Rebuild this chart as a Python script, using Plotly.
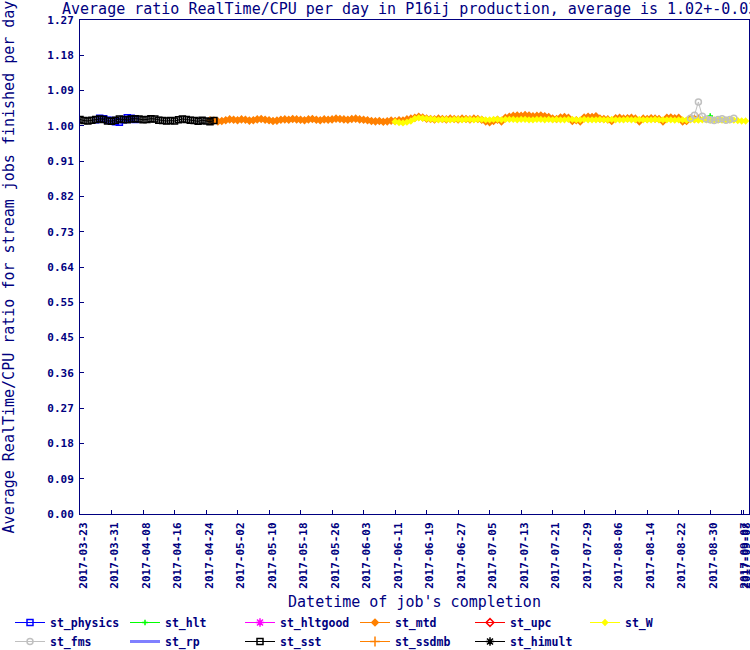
import plotly.graph_objects as go
import pandas as pd

NAVY = "#000080"
FONT = "DejaVu Sans Mono"

# ---- axis ticks ----
y_max = 1.272
y_tick_labels = ["0.00", "0.09", "0.18", "0.27", "0.36", "0.45", "0.55", "0.64",
                 "0.73", "0.82", "0.91", "1.00", "1.09", "1.18", "1.27"]
x_tick_dates = ["2017-03-23", "2017-03-31", "2017-04-08", "2017-04-16", "2017-04-24",
                "2017-05-02", "2017-05-10", "2017-05-18", "2017-05-26", "2017-06-03",
                "2017-06-11", "2017-06-19", "2017-06-27", "2017-07-05", "2017-07-13",
                "2017-07-21", "2017-07-29", "2017-08-06", "2017-08-14", "2017-08-22",
                "2017-08-30", "2017-09-07", "2017-09-07 13:30"]
x_tick_labels = ["2017-03-23", "2017-03-31", "2017-04-08", "2017-04-16", "2017-04-24",
                 "2017-05-02", "2017-05-10", "2017-05-18", "2017-05-26", "2017-06-03",
                 "2017-06-11", "2017-06-19", "2017-06-27", "2017-07-05", "2017-07-13",
                 "2017-07-21", "2017-07-29", "2017-08-06", "2017-08-14", "2017-08-22",
                 "2017-08-30", "2017-09-07", "2017-09-08"]
x_range = ["2017-03-23", "2017-09-08 20:24"]

# ---- series (daily values) ----
physics_start = "2017-03-27"
physics_vals = [1.015, 1.019, 1.018, 1.014, 1.013, 1.010, 1.009, 1.015, 1.020, 1.019, 1.016]

hlt_start = "2017-08-30"
hlt_vals = [1.025]

mtd_start = "2017-04-25"
mtd_vals = [1.014, 1.013, 1.011, 1.012, 1.014, 1.016, 1.015, 1.014, 1.016, 1.015,
            1.013, 1.014, 1.016, 1.017, 1.015, 1.014, 1.012, 1.013, 1.015, 1.016,
            1.015, 1.017, 1.016, 1.015, 1.014, 1.016, 1.017, 1.015, 1.014, 1.016,
            1.015, 1.016, 1.018, 1.017, 1.016, 1.015, 1.017, 1.018, 1.016, 1.015,
            1.014, 1.012, 1.011, 1.012, 1.010, 1.011, 1.013, 1.012, 1.014, 1.013,
            1.016, 1.018, 1.020, 1.023, 1.021, 1.018, 1.017, 1.016, 1.018, 1.017,
            1.016, 1.018, 1.017, 1.016, 1.018, 1.017, 1.016, 1.018, 1.017, 1.015,
            1.011, 1.009, 1.012, 1.015, 1.011, 1.020, 1.023, 1.025, 1.026, 1.025,
            1.027, 1.026, 1.024, 1.025, 1.026, 1.024, 1.022, 1.018, 1.017, 1.021,
            1.022, 1.020, 1.012, 1.014, 1.011, 1.021, 1.023, 1.022, 1.024, 1.018,
            1.017, 1.016, 1.012, 1.019, 1.020, 1.018, 1.019, 1.020, 1.018, 1.011,
            1.018, 1.017, 1.019, 1.018, 1.017, 1.011, 1.020, 1.021, 1.019, 1.020,
            1.011, 1.012, 1.018, 1.017, 1.018]

W_start = "2017-06-11"
W_vals = [1.010, 1.008, 1.007, 1.009, 1.012, 1.018, 1.020, 1.019, 1.018, 1.017,
          1.016, 1.015, 1.016, 1.016, 1.015, 1.016, 1.016, 1.015, 1.016, 1.016,
          1.015, 1.016, 1.016, 1.015, 1.015, 1.016, 1.016, 1.015, 1.016, 1.016,
          1.016, 1.015, 1.016, 1.016, 1.015, 1.015, 1.016, 1.016, 1.015, 1.016,
          1.015, 1.016, 1.015, 1.015, 1.016, 1.016, 1.015, 1.015, 1.016, 1.015,
          1.015, 1.015, 1.016, 1.015, 1.015, 1.016, 1.015, 1.015, 1.015, 1.016,
          1.015, 1.015, 1.016, 1.015, 1.015, 1.015, 1.016, 1.015, 1.015, 1.015,
          1.015, 1.014, 1.015, 1.015, 1.014, 1.015, 1.015, 1.014, 1.015, 1.015,
          1.014, 1.015, 1.014, 1.014, 1.015, 1.014, 1.014, 1.013, 1.012, 1.012]

fms_start = "2017-08-25"
fms_vals = [1.019, 1.027, 1.061, 1.024, 1.017, 1.015, 1.013, 1.016, 1.018, 1.014, 1.016, 1.019]

sst_start = "2017-03-23"
sst_vals = [1.016, 1.013, 1.012, 1.014, 1.016, 1.017, 1.016, 1.012, 1.011, 1.014,
            1.017, 1.016, 1.015, 1.017, 1.018, 1.017, 1.015, 1.016, 1.018, 1.017,
            1.014, 1.013, 1.012, 1.013, 1.012, 1.015, 1.017, 1.016, 1.014, 1.013,
            1.011, 1.014, 1.012, 1.010, 1.013]

series = [
    # name, start, values, color, symbol, size
    ("st_physics", physics_start, physics_vals, "#0000FF", "square-open", 6),
    ("st_hlt", hlt_start, hlt_vals, "#00FF00", "cross-thin-open", 4),
    ("st_hltgood", None, [], "#FF00FF", "asterisk-open", 7),
    ("st_mtd", mtd_start, mtd_vals, "#FF8000", "diamond", 5),
    ("st_upc", None, [], "#FF0000", "diamond-open", 6),
    ("st_W", W_start, W_vals, "#FFFF00", "diamond", 4),
    ("st_fms", fms_start, fms_vals, "#C0C0C0", "circle-open", 6),
    ("st_rp", None, [], "#8080FF", None, 0),
    ("st_sst", sst_start, sst_vals, "#000000", "square-open", 6),
    ("st_ssdmb", None, [], "#FF8000", "cross-thin-open", 7),
    ("st_himult", None, [], "#000000", "asterisk-open", 7),
]

fig = go.Figure()
for name, start, vals, color, symbol, size in series:
    if start:
        xs = list(pd.date_range(start, periods=len(vals), freq="D"))
        ys = vals
    else:
        # no data for this stream: keep a legend entry only
        xs = [pd.Timestamp(x_range[0])]
        ys = [None]
    if symbol is None:
        fig.add_trace(go.Scatter(x=xs, y=ys, name=name, mode="lines",
                                 line=dict(color=color, width=3)))
    else:
        fig.add_trace(go.Scatter(
            x=xs, y=ys, name=name, mode="lines+markers",
            line=dict(color=color, width=1),
            marker=dict(symbol=symbol, size=size, color=color,
                        line=dict(color=color, width=1.5)),
        ))

tick_font = dict(family=FONT, size=11, color=NAVY, weight="bold")

W_FIG, H_FIG = 750, 650
L, R, T, B = 80, 1, 20, 136
plot_h = H_FIG - T - B
plot_w = W_FIG - L - R

fig.update_layout(
    width=W_FIG, height=H_FIG,
    margin=dict(l=L, r=R, t=T, b=B, autoexpand=False),
    paper_bgcolor="white", plot_bgcolor="white",
    font=dict(family=FONT, color=NAVY),
    title=dict(
        text="Average ratio RealTime/CPU per day in P16ij production, average is 1.02+-0.03",
        font=dict(family=FONT, size=15, color=NAVY),
        x=62 / W_FIG, xanchor="left", xref="container",
        y=1 - 9 / H_FIG, yanchor="middle", yref="container",
    ),
    xaxis=dict(
        type="date", range=x_range, automargin=False,
        tickvals=x_tick_dates, ticktext=x_tick_labels,
        tickangle=-90, ticks="inside", ticklen=4, tickcolor=NAVY,
        tickfont=tick_font, ticklabelshift=3, ticklabelstandoff=3,
        ticklabeloverflow="allow",
        showline=True, linecolor=NAVY, linewidth=1, mirror=True,
        showgrid=False, zeroline=False,
        title=dict(text="Datetime of job's completion",
                   font=dict(family=FONT, size=15, color=NAVY), standoff=8),
    ),
    yaxis=dict(
        range=[0, y_max], automargin=False,
        tickvals=[i * y_max / 14 for i in range(15)], ticktext=y_tick_labels,
        ticks="inside", ticklen=4, tickcolor=NAVY,
        tickfont=tick_font, ticklabelstandoff=3,
        showline=True, linecolor=NAVY, linewidth=1, mirror=True,
        showgrid=False, zeroline=False,
        title=dict(text="Average RealTime/CPU ratio for stream jobs finished per day",
                   font=dict(family=FONT, size=15, color=NAVY), standoff=31),
    ),
    legend=dict(
        orientation="h", x=(10 - L) / plot_w, xanchor="left",
        y=((H_FIG - B) - 608) / plot_h, yanchor="top",
        entrywidth=70, entrywidthmode="pixels",
        font=dict(family=FONT, size=11.5, color=NAVY, weight="bold"),
        bgcolor="rgba(0,0,0,0)", tracegroupgap=0,
    ),
)

# the page's default 8px body margin would shift and clip the figure
fig.write_html("out.html", config={"displayModeBar": False},
               post_script="document.body.style.margin='0px';")
